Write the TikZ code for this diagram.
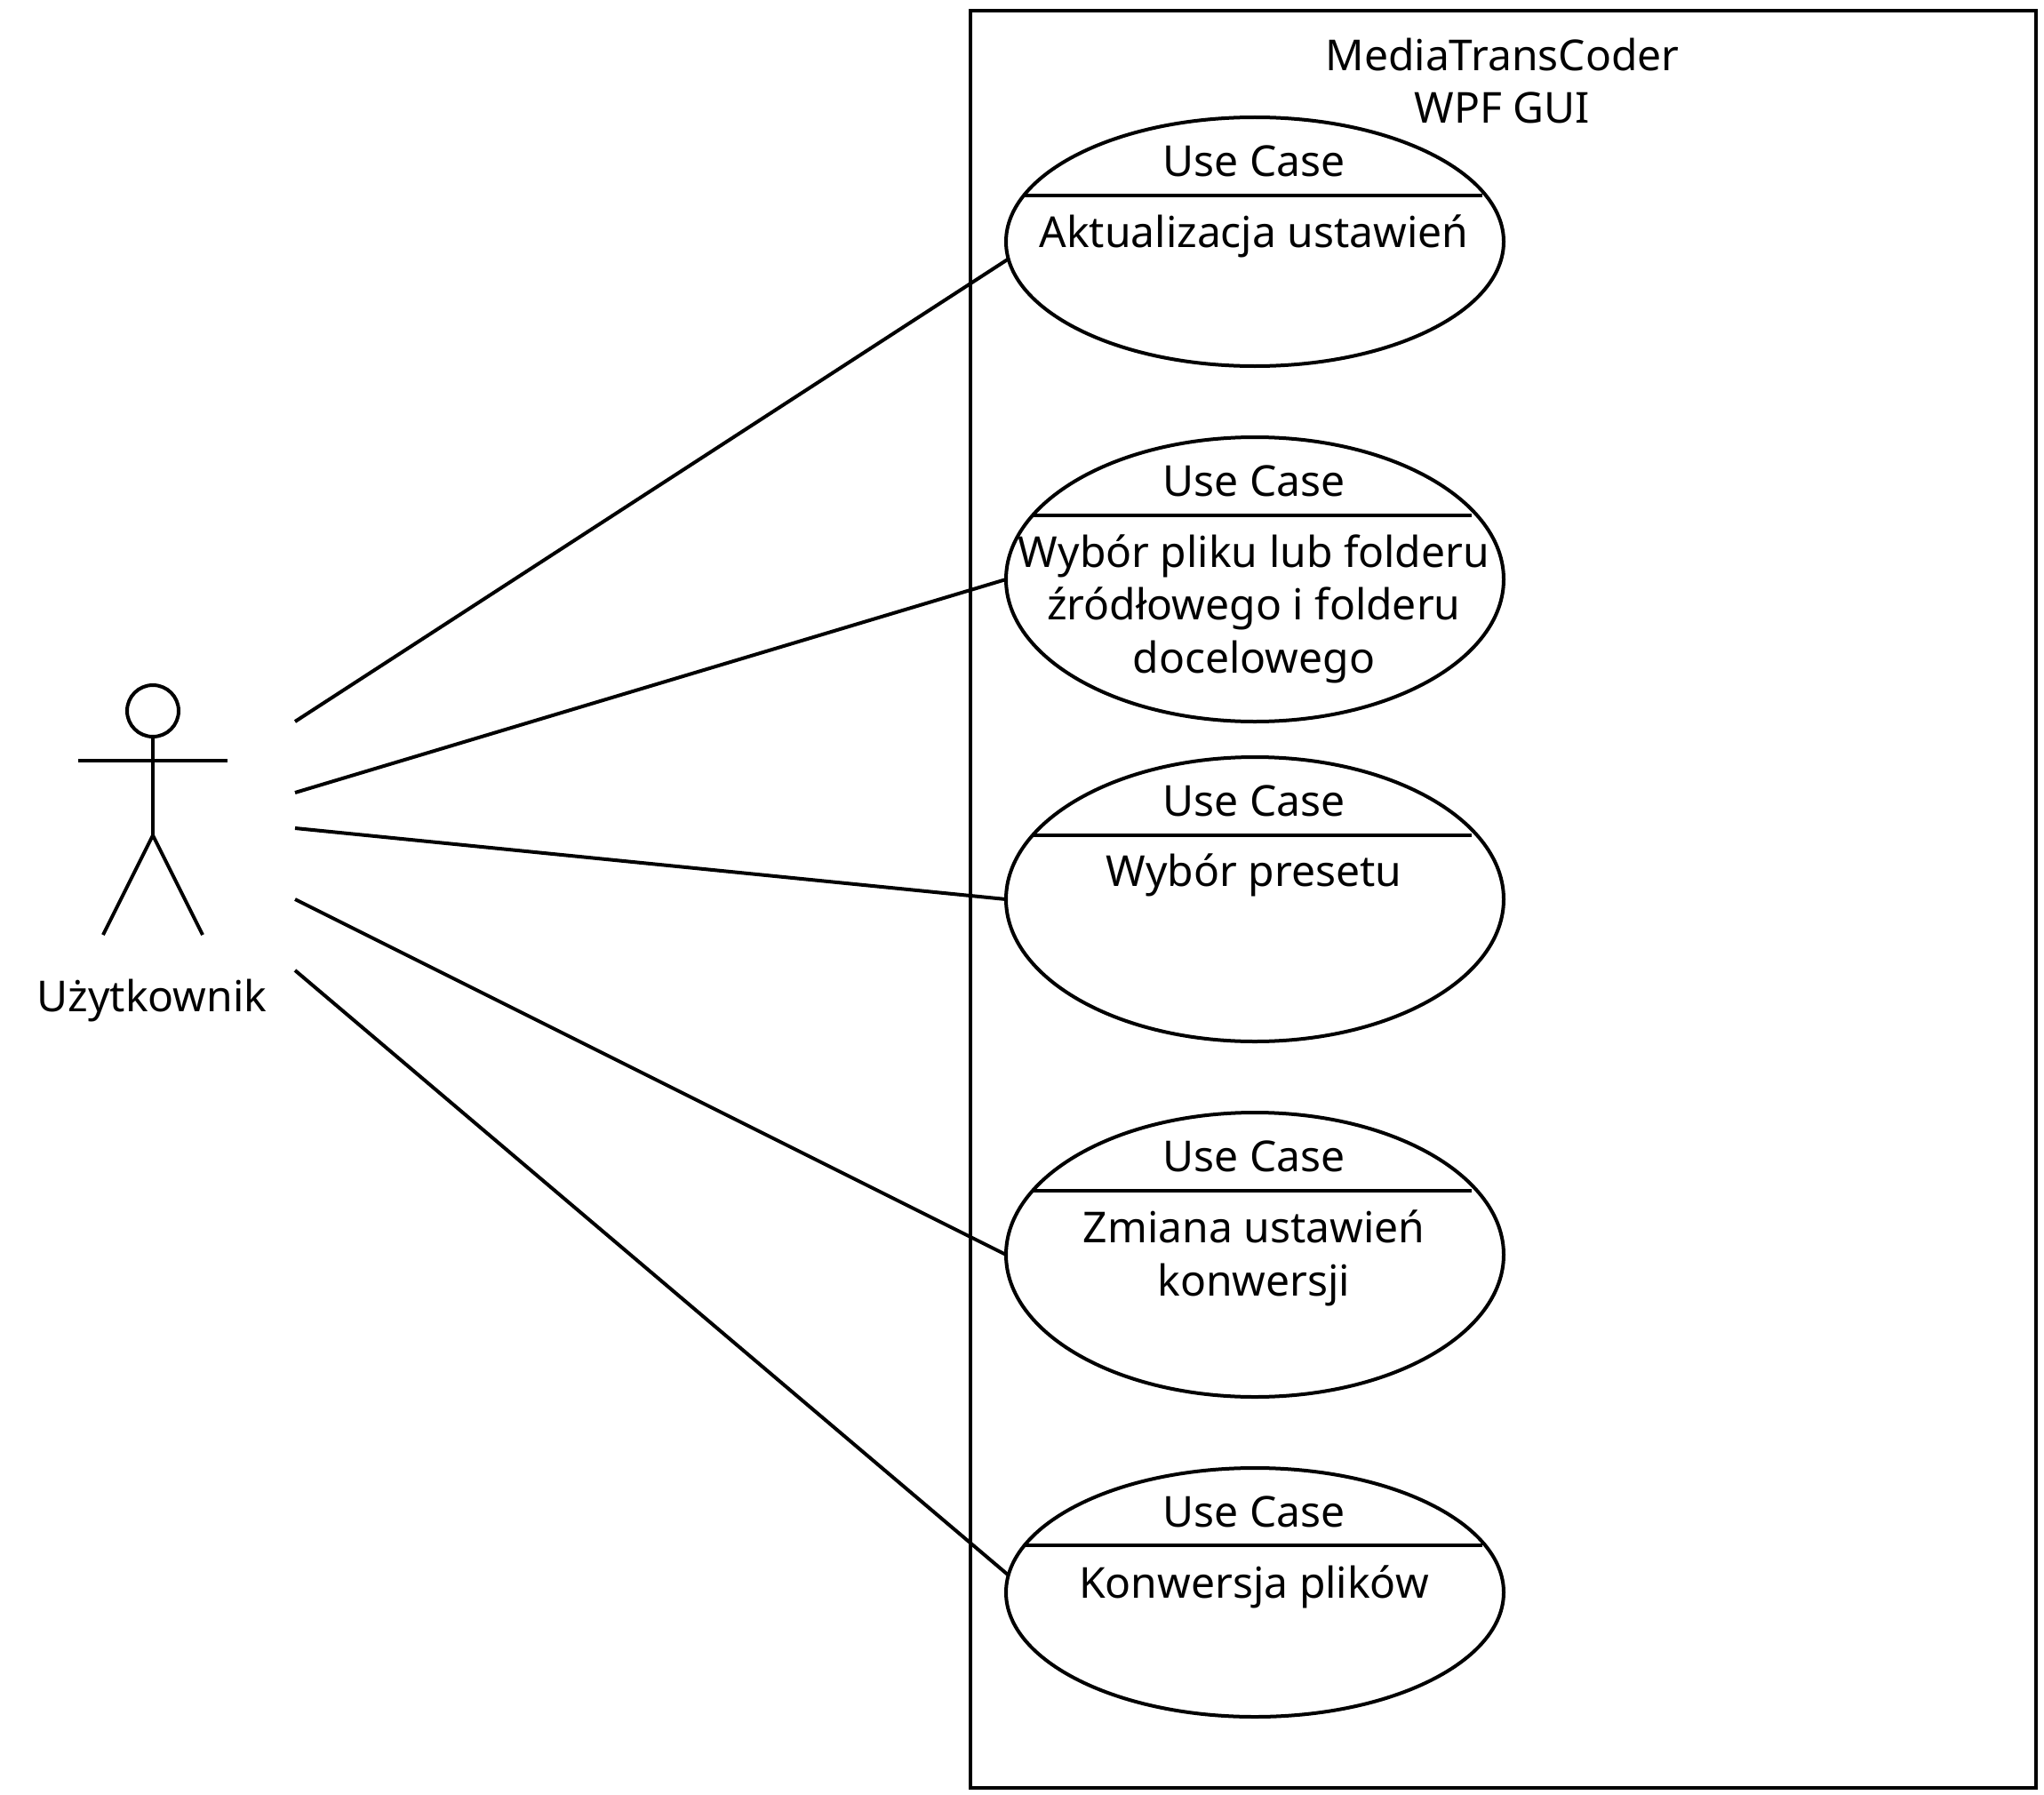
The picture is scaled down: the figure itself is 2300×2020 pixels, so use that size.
\documentclass[tikz,border=0pt]{standalone}
\usepackage{fontspec}
\setmainfont{Noto Sans}
\usetikzlibrary{shapes.geometric,positioning}
\tikzset
{
    usecase/.style  = {ellipse, draw=black, line width=4pt, inner sep=0pt, outer sep=0pt, minimum width=560pt},
    uctext/.style   = {align=center, inner sep=0pt, font=\fontsize{48}{59.5}\selectfont},
    divider/.style  = {draw=black, line width=4pt},
    assoc/.style    = {draw=black, line width=4pt},
    actorline/.style = {draw=black, line width=4pt}
}
\begin{document}
\begin{tikzpicture}
	[x=1pt, y=-1pt]
	\useasboundingbox (0,0) rectangle (2300,2020);
	% system boundary
	\node[draw=black, line width=4pt, minimum width=1199pt, minimum height=2000pt, inner sep=0pt, outer sep=0pt] (system) at (1691.5,1012) {};
	\node[uctext] (systemname) at (1690.5,91) {MediaTransCoder\\WPF GUI};

	% use cases
	\node[usecase, minimum height=280pt] (uc1) at (1412,272) {};
	\node[uctext] (uc1head) at (1411,181) {Use Case};
	\node[uctext] (uc1text) at (1411,265.5) {Aktualizacja ustawień};
	\draw[divider] (1152,220) -- (1668,220);

	\node[usecase, minimum height=320pt] (uc2) at (1412,652) {};
	\node[uctext] (uc2head) at (1411,541) {Use Case};
	\node[uctext] (uc2text) at (1411,685) {Wybór pliku lub folderu\\źródłowego i folderu\\docelowego};
	\draw[divider] (1162,580) -- (1656,580);

	\node[usecase, minimum height=320pt] (uc3) at (1412,1012) {};
	\node[uctext] (uc3head) at (1411,901) {Use Case};
	\node[uctext] (uc3text) at (1411,985) {Wybór presetu};
	\draw[divider] (1162,940) -- (1656,940);

	\node[usecase, minimum height=320pt] (uc4) at (1412,1412) {};
	\node[uctext] (uc4head) at (1411,1301) {Use Case};
	\node[uctext] (uc4text) at (1411,1416) {Zmiana ustawień\\konwersji};
	\draw[divider] (1162,1340) -- (1656,1340);

	\node[usecase, minimum height=280pt] (uc5) at (1412,1792) {};
	\node[uctext] (uc5head) at (1411,1701) {Use Case};
	\node[uctext] (uc5text) at (1411,1785.5) {Konwersja plików};
	\draw[divider] (1152,1739) -- (1668,1739);

	% actor
	\node[circle, draw=black, line width=4pt, minimum size=58pt, inner sep=0pt, outer sep=0pt] (head) at (172,800) {};
	\coordinate (hip) at (172,940);
	\draw[actorline] (head.south) -- (hip);
	\draw[actorline] (88,856) -- (256,856);
	\draw[actorline] (116,1052) -- (hip) -- (228,1052);
	\node[uctext] (actorname) at (171,1126) {Użytkownik};

	% associations
	\coordinate (a1) at (332,812);
	\coordinate (a2) at (332,892);
	\coordinate (a3) at (332,932);
	\coordinate (a4) at (332,1012);
	\coordinate (a5) at (332,1092);
	\draw[assoc] (a1) -- (uc1.184);
	\draw[assoc] (a2) -- (uc2.west);
	\draw[assoc] (a3) -- (uc3.west);
	\draw[assoc] (a4) -- (uc4.west);
	\draw[assoc] (a5) -- (uc5.176);
\end{tikzpicture}
\end{document}
